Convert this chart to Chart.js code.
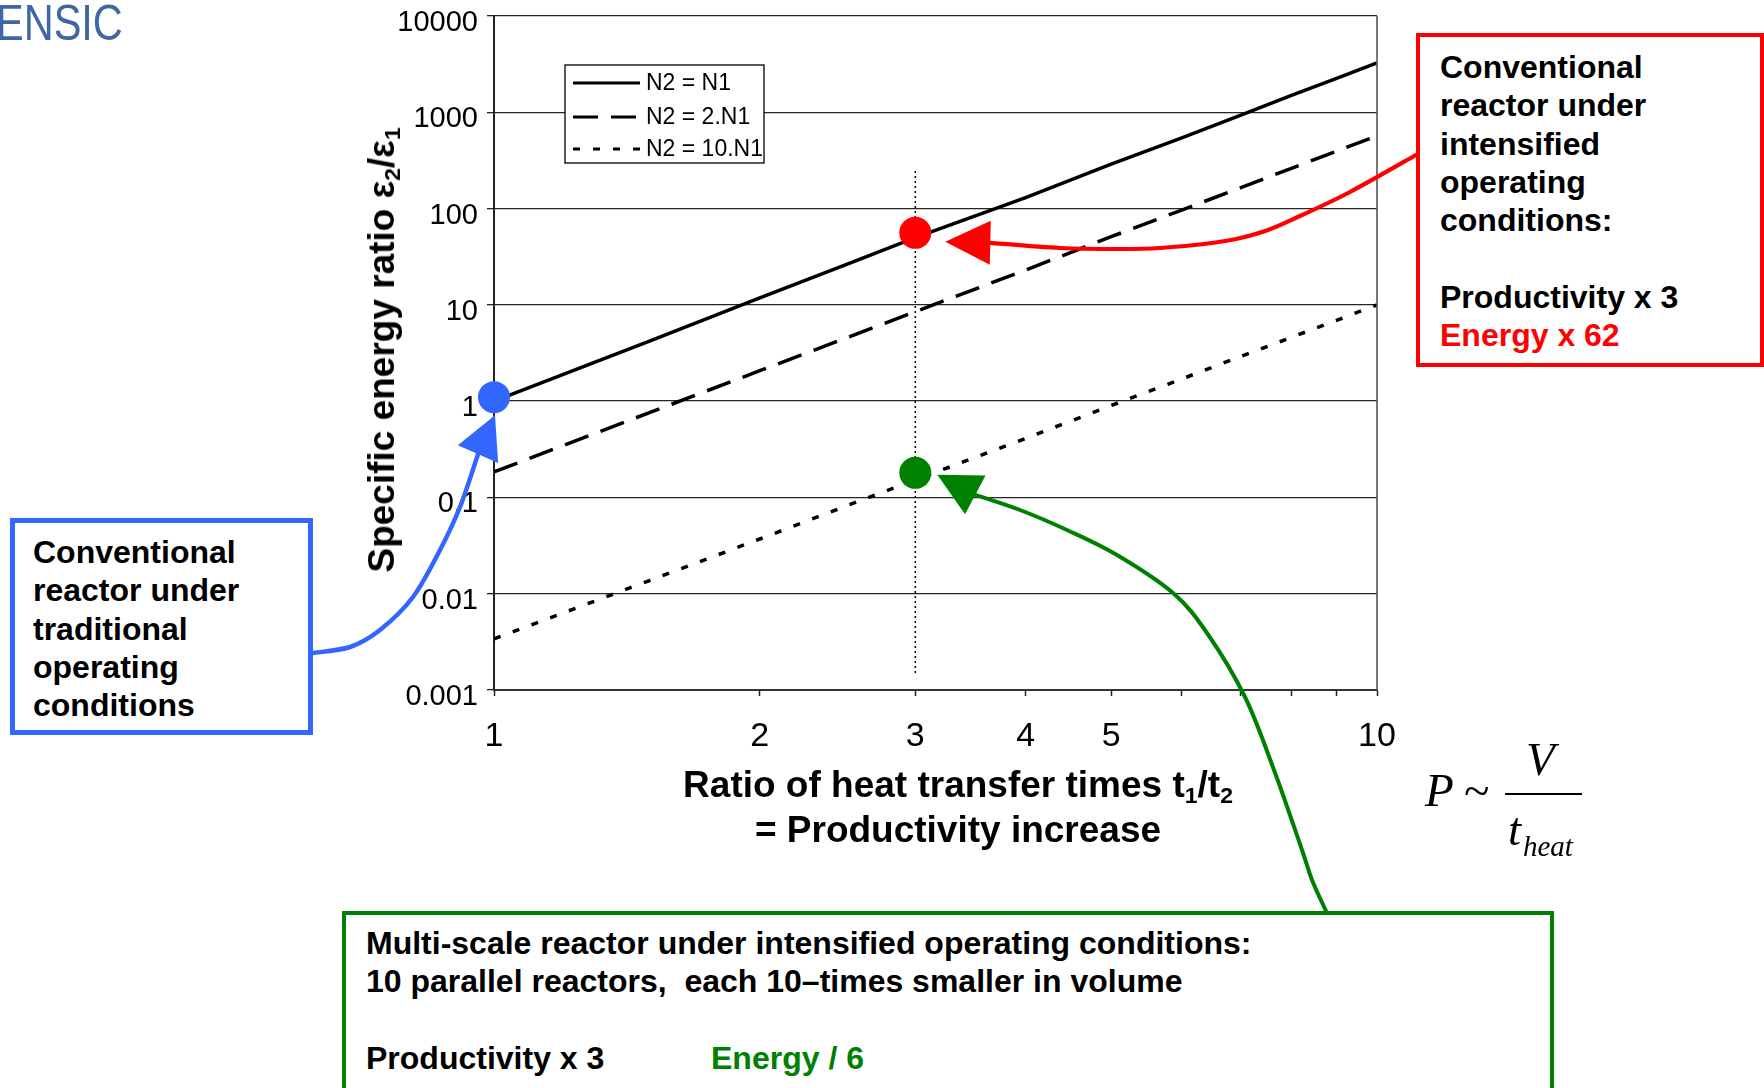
<!DOCTYPE html>
<html>
<head>
<meta charset="utf-8">
<script src="https://cdn.jsdelivr.net/npm/chart.js@4.4.1/dist/chart.umd.min.js"></script>
<style>
html,body{margin:0;padding:0;background:#fff;}
body{width:1764px;height:1088px;position:relative;overflow:hidden;font-family:'Liberation Sans',Arial,Helvetica,sans-serif;}
#c{position:absolute;left:0;top:0;}
.box{position:absolute;box-sizing:border-box;background:#fff;font-weight:bold;font-size:32px;line-height:38.3px;color:#000;white-space:nowrap;}
.ax{position:absolute;font-weight:bold;font-size:37px;color:#000;white-space:nowrap;}
.ax sub{font-size:0.62em;vertical-align:-0.28em;line-height:0;}
.f{position:absolute;font-family:'Liberation Serif','Times New Roman',serif;font-style:italic;line-height:1;color:#000;white-space:nowrap;}
</style>
</head>
<body>
<canvas id="c" width="1764" height="1088"></canvas>

<div style="position:absolute;left:-4px;top:-2px;font-size:50px;line-height:1;color:#3e67a3;transform:scaleX(0.83);transform-origin:0 0;">ENSIC</div>

<div class="ax" id="ytitle" style="left:382px;top:350px;transform:translate(-50%,-50%) rotate(-90deg);">Specific energy ratio ε<sub>2</sub>/ε<sub>1</sub></div>
<div class="ax" style="left:558px;top:762px;width:800px;text-align:center;line-height:45px;">Ratio of heat transfer times t<sub>1</sub>/t<sub>2</sub><br>= Productivity increase</div>

<div class="box" style="left:10px;top:518px;width:303px;height:217px;border:5px solid #3366ff;padding:10px 0 0 18px;">Conventional<br>reactor under<br>traditional<br>operating<br>conditions</div>

<div class="box" style="left:1416px;top:33px;width:348px;height:334px;border:4px solid #ff0000;padding:11px 0 0 20px;">Conventional<br>reactor under<br>intensified<br>operating<br>conditions:<br>&nbsp;<br>Productivity x 3<br><span style="color:#ff0000;">Energy x 62</span></div>

<div class="box" style="left:342px;top:911px;width:1212px;height:200px;border:4px solid #008000;padding:9px 0 0 20px;">
<div>Multi-scale reactor under intensified operating conditions:</div>
<div>10 parallel reactors,&nbsp; each 10–times smaller in volume</div>
<div>&nbsp;</div>
<div style="position:relative;">Productivity x 3<span style="position:absolute;left:345px;top:0;color:#008000;">Energy / 6</span></div>
</div>

<div class="f" style="left:1425px;top:767px;font-size:47px;">P</div>
<div class="f" style="left:1464px;top:767px;font-size:47px;font-style:normal;">~</div>
<div class="f" style="left:1526px;top:736px;font-size:47px;">V</div>
<div style="position:absolute;left:1505px;top:793px;width:77px;height:2px;background:#000;"></div>
<div class="f" style="left:1508px;top:806px;font-size:47px;">t</div>
<div class="f" style="left:1523px;top:832px;font-size:29px;">heat</div>

<script>
// ---- data ----
const productivity = [1, 1.5, 2, 2.5, 3, 4, 5, 6, 7, 8, 9, 10];
const energySameN  = [1, 4.2, 11.8, 26, 50, 130, 290, 540, 930, 1500, 2250, 3250];
const energyDoubleN = [0.184, 0.76, 2.07, 4.5, 8.5, 23, 51, 96, 164, 262, 395, 568];
const energyTenN   = [0.0034, 0.0137, 0.037, 0.081, 0.152, 0.41, 0.90, 1.69, 2.9, 4.6, 6.9, 10];
const seriesLabels = ['N2 = N1', 'N2 = 2.N1', 'N2 = 10.N1'];

const markerLabels = ['Conventional, traditional', 'Conventional, intensified', 'Multi-scale, intensified'];
const markerX = [1, 3, 3];
const markerY = [1.1, 56, 0.18];
const markerColors = ['#3366ff', '#ff0000', '#008000'];

const guideX = [3, 3];
const guideY = [0.0015, 250];

const yTickValues = [0.001, 0.01, 0.1, 1, 10, 100, 1000, 10000];
const yTickLabels = ['0.001', '0.01', '0.1', '1', '10', '100', '1000', '10000'];
const xTickValues = [1, 2, 3, 4, 5, 6, 7, 8, 9, 10];
const xTickLabels = ['1', '2', '3', '4', '5', '', '', '', '', '10'];

const FONT = "'Liberation Sans', Arial, Helvetica, sans-serif";
const pts = (xs, ys) => xs.map((v, i) => ({x: v, y: ys[i]}));

const lineStyles = [[], [25, 13], [7, 13]];
const lineSeries = [energySameN, energyDoubleN, energyTenN];

const datasets = [];
markerX.forEach((mx, i) => {
  datasets.push({
    label: markerLabels[i], data: [{x: mx, y: markerY[i]}],
    pointRadius: 16, pointBackgroundColor: markerColors[i], pointBorderWidth: 0,
    showLine: false, clip: false, isMarker: true
  });
});
lineSeries.forEach((ys, i) => {
  datasets.push({
    label: seriesLabels[i], data: pts(productivity, ys),
    showLine: true, borderColor: '#000', borderWidth: 3.5, borderDash: lineStyles[i],
    pointRadius: 0, tension: 0, fill: false, isSeries: true
  });
});
datasets.push({
  label: 'guide', data: pts(guideX, guideY), showLine: true, borderColor: '#000',
  borderWidth: 1.5, borderDash: [2, 3], pointRadius: 0, fill: false
});

function spline(ctx, p) {
  ctx.beginPath();
  ctx.moveTo(p[0][0], p[0][1]);
  for (let i = 0; i < p.length - 1; i++) {
    const p0 = p[i - 1] || p[i], p1 = p[i], p2 = p[i + 1], p3 = p[i + 2] || p[i + 1];
    ctx.bezierCurveTo(p1[0] + (p2[0] - p0[0]) / 6, p1[1] + (p2[1] - p0[1]) / 6,
                      p2[0] - (p3[0] - p1[0]) / 6, p2[1] - (p3[1] - p1[1]) / 6, p2[0], p2[1]);
  }
  ctx.stroke();
}
function head(ctx, tip, base, hw) {
  const dx = base[0] - tip[0], dy = base[1] - tip[1], L = Math.hypot(dx, dy);
  const nx = -dy / L, ny = dx / L;
  ctx.beginPath();
  ctx.moveTo(tip[0], tip[1]);
  ctx.lineTo(base[0] + nx * hw, base[1] + ny * hw);
  ctx.lineTo(base[0] - nx * hw, base[1] - ny * hw);
  ctx.closePath();
  ctx.fill();
}

const overlay = {
  id: 'overlay',
  afterDraw(chart) {
    const {ctx, chartArea: a, scales: {x, y}} = chart;
    ctx.save();
    // right frame
    ctx.strokeStyle = '#555'; ctx.lineWidth = 1.6;
    ctx.beginPath(); ctx.moveTo(a.right, a.top); ctx.lineTo(a.right, a.bottom); ctx.stroke();

    // legend box
    const lx = a.left + 71, ly = a.top + 49, lw = 199, lh = 98;
    ctx.fillStyle = '#fff'; ctx.fillRect(lx, ly, lw, lh);
    ctx.strokeStyle = '#000'; ctx.lineWidth = 1.3; ctx.strokeRect(lx, ly, lw, lh);
    const rows = [18, 52, 84];
    ctx.font = '23px ' + FONT; ctx.textBaseline = 'middle'; ctx.textAlign = 'left';
    chart.data.datasets.filter(d => d.isSeries).forEach((d, i) => {
      const yy = ly + rows[i];
      ctx.strokeStyle = '#000'; ctx.lineWidth = 3.2; ctx.setLineDash(d.borderDash || []);
      ctx.beginPath(); ctx.moveTo(lx + 8, yy); ctx.lineTo(lx + 75, yy); ctx.stroke();
      ctx.setLineDash([]);
      ctx.fillStyle = '#000'; ctx.fillText(d.label, lx + 81, yy + 1);
    });

    // annotation arrows, tips placed next to the marker points
    const mp = markerX.map((mx, i) => [x.getPixelForValue(mx), y.getPixelForValue(markerY[i])]);
    ctx.lineCap = 'round'; ctx.lineJoin = 'round';

    // blue
    let tip = [mp[0][0] + 1, mp[0][1] + 18], base = [tip[0] - 17, tip[1] + 39];
    ctx.strokeStyle = ctx.fillStyle = '#3366ff'; ctx.lineWidth = 4.5;
    spline(ctx, [[313, 653], [350, 647], [380, 630], [413, 597], [440, 550], [460, 507], base]);
    head(ctx, tip, base, 22);

    // red
    tip = [mp[1][0] + 30, mp[1][1] + 9]; base = [tip[0] + 45, tip[1] + 1];
    ctx.strokeStyle = ctx.fillStyle = '#ff0000'; ctx.lineWidth = 4.2;
    spline(ctx, [[1416, 155], [1350, 192], [1300, 216], [1268, 230], [1236, 239], [1204, 244], [1160, 248], [1120, 249], [1060, 248], base]);
    head(ctx, tip, base, 22);

    // green
    tip = [mp[2][0] + 22, mp[2][1] + 2]; base = [tip[0] + 38, tip[1] + 20];
    ctx.strokeStyle = ctx.fillStyle = '#008000'; ctx.lineWidth = 4;
    spline(ctx, [[1326, 911], [1312, 880], [1302, 850], [1274, 770], [1245, 697], [1207, 633], [1173, 593], [1117, 555], [1067, 530], [1020, 510], base]);
    head(ctx, tip, base, 22);
    ctx.restore();
  }
};

Chart.defaults.font.family = FONT;
Chart.defaults.color = '#000';

new Chart(document.getElementById('c'), {
  type: 'scatter',
  data: {datasets},
  options: {
    responsive: false, animation: false, events: [],
    layout: {padding: {left: 0, top: 16, right: 387, bottom: 0}},
    plugins: {legend: {display: false}, tooltip: {enabled: false}},
    scales: {
      x: {
        type: 'logarithmic', min: 1, max: 10, position: 'bottom',
        afterBuildTicks(s) { s.ticks = xTickValues.map(v => ({value: v})); },
        afterFit(s) { s.height = 398; s.paddingLeft = 0; s.paddingRight = 0; },
        ticks: {
          font: {size: 34}, color: '#000', padding: 20, maxRotation: 0, autoSkip: false,
          callback: (v) => { const i = xTickValues.indexOf(v); return i >= 0 ? xTickLabels[i] : ''; }
        },
        grid: {drawOnChartArea: false, tickLength: 6, tickColor: '#222', tickWidth: 1.5},
        border: {color: '#333', width: 2}
      },
      y: {
        type: 'logarithmic', min: 0.001, max: 10000,
        afterBuildTicks(s) { s.ticks = yTickValues.map(v => ({value: v})); },
        afterFit(s) { s.width = 494; s.paddingTop = 0; s.paddingBottom = 0; },
        ticks: {
          font: {size: 29}, color: '#000', padding: 9, labelOffset: 7, autoSkip: false,
          callback: (v) => { const i = yTickValues.indexOf(v); return i >= 0 ? yTickLabels[i] : ''; }
        },
        grid: {color: 'rgba(0,0,0,0.85)', lineWidth: 1.3, tickLength: 7, tickColor: '#222'},
        border: {color: '#222', width: 2}
      }
    }
  },
  plugins: [overlay]
});
</script>
</body>
</html>
